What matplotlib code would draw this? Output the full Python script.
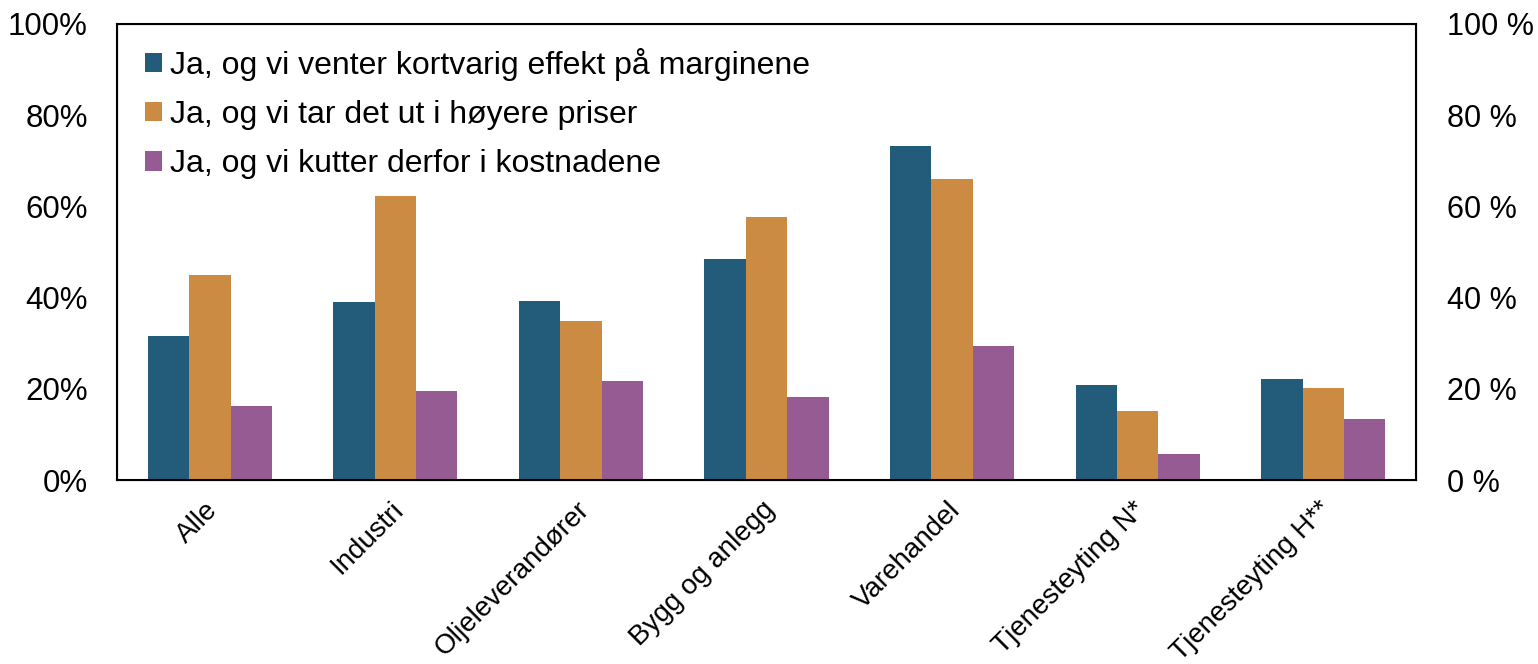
import numpy as np
import matplotlib.pyplot as plt
import matplotlib.transforms as mtransforms
from matplotlib.ticker import FuncFormatter

plt.rcParams['font.family'] = ['Liberation Sans', 'DejaVu Sans']

categories = ['Alle', 'Industri', 'Oljeleverandører', 'Bygg og anlegg',
              'Varehandel', 'Tjenesteyting N*', 'Tjenesteyting H**']
series_names = ['Ja, og vi venter kortvarig effekt på marginene',
                'Ja, og vi tar det ut i høyere priser',
                'Ja, og vi kutter derfor i kostnadene']
kortvarig = [31.6, 39.0, 39.3, 48.5, 73.2, 20.8, 22.1]
hoyere_priser = [45.0, 62.3, 34.9, 57.7, 66.0, 15.1, 20.2]
kutter = [16.2, 19.5, 21.7, 18.2, 29.4, 5.7, 13.4]
colors = ['#235B7A', '#CC8B42', '#975B94']

fig = plt.figure(figsize=(15.38, 6.64), dpi=100)
ax = fig.add_axes([0.0761, 0.2771, 0.8446, 0.6868])

x = np.arange(len(categories))
w = 0.223
for i, vals in enumerate([kortvarig, hoyere_priser, kutter]):
    ax.bar(x + (i - 1) * w, vals, width=w, color=colors[i], label=series_names[i])

fs = 22.5
ax.set_xlim(-0.5, len(categories) - 0.5)
ax.set_ylim(0, 100)
ax.set_yticks(np.arange(0, 101, 20))
ax.yaxis.set_major_formatter(FuncFormatter(lambda v, p: f'{v:.0f}%'))
ax.set_xticks(x)
ax.set_xticklabels(categories, rotation=45, ha='right', rotation_mode='anchor',
                   fontsize=20)
ax.tick_params(axis='y', length=0, labelsize=fs, pad=21)
ax.tick_params(axis='x', length=0, pad=12)
shift = mtransforms.ScaledTranslation(-5 / 100, 0, fig.dpi_scale_trans)
for lbl in ax.get_xticklabels():
    lbl.set_transform(lbl.get_transform() + shift)
for s in ax.spines.values():
    s.set_linewidth(1.5)

ax2 = ax.twinx()
ax2.set_ylim(0, 100)
ax2.set_yticks(np.arange(0, 101, 20))
ax2.yaxis.set_major_formatter(FuncFormatter(lambda v, p: f'{v:.0f} %'))
ax2.tick_params(axis='y', length=0, labelsize=22, pad=22)

ax.legend(loc='upper left', frameon=False, fontsize=23, handlelength=0.55,
          handleheight=0.55, handletextpad=0.25, labelspacing=0.6,
          bbox_to_anchor=(0.003, 1.0), borderaxespad=0.55, borderpad=0.2)

fig.savefig('out.png', dpi=100)
